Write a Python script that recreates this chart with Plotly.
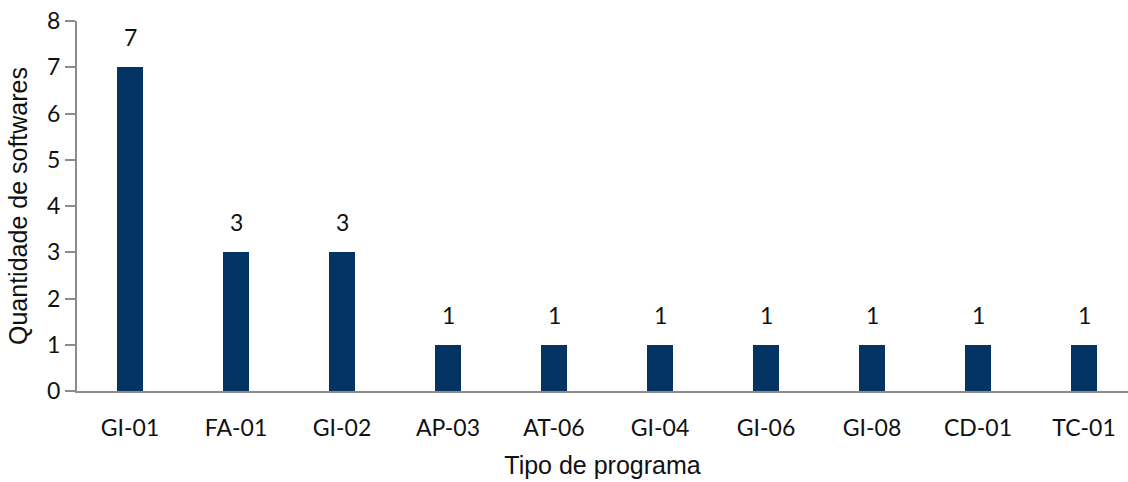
import plotly.graph_objects as go

# Program types and number of software tools per type
categorias = ["GI-01", "FA-01", "GI-02", "AP-03", "AT-06", "GI-04", "GI-06", "GI-08", "CD-01", "TC-01"]
quantidades = [7, 3, 3, 1, 1, 1, 1, 1, 1, 1]
y_ticks = [0, 1, 2, 3, 4, 5, 6, 7, 8]

fonte_num = "Lato, 'Open Sans', sans-serif"
fonte_titulo = "'Liberation Sans', Arial, sans-serif"
cor_barra = "#043463"
cor_eixo = "#8c8c8c"

fig = go.Figure(
    go.Bar(
        x=list(range(len(categorias))),
        y=quantidades,
        width=0.245,
        marker=dict(color=cor_barra, line=dict(width=0)),
        showlegend=False,
        hoverinfo="skip",
    )
)

# Value labels placed above each bar
for i, v in enumerate(quantidades):
    fig.add_annotation(
        x=i, y=v, text=str(v), showarrow=False,
        yshift=30, font=dict(family=fonte_num, size=23, color="#111111"),
    )

fig.update_layout(
    width=1128, height=482,
    margin=dict(l=77, r=0, t=21, b=91),
    paper_bgcolor="white", plot_bgcolor="white",
    bargap=0,
)

fig.update_xaxes(
    tickmode="array",
    tickvals=list(range(len(categorias))),
    ticktext=categorias,
    range=[-0.5, 9.415],
    showgrid=False, zeroline=False,
    showline=True, linecolor=cor_eixo, linewidth=2,
    ticks="", ticklabelstandoff=15,
    tickfont=dict(family=fonte_num, size=23, color="#111111"),
    title=dict(text="Tipo de programa", standoff=17,
               font=dict(family=fonte_titulo, size=25, color="#111111")),
)

fig.update_yaxes(
    range=[0, 8],
    tickmode="array", tickvals=y_ticks,
    showgrid=False, zeroline=False,
    showline=True, linecolor=cor_eixo, linewidth=2,
    ticks="outside", ticklen=10, tickwidth=2, tickcolor=cor_eixo,
    tickfont=dict(family=fonte_num, size=23, color="#111111"),
    title=dict(text="Quantidade de softwares", standoff=12,
               font=dict(family=fonte_titulo, size=25, color="#111111")),
)

fig.write_html("out.html")
